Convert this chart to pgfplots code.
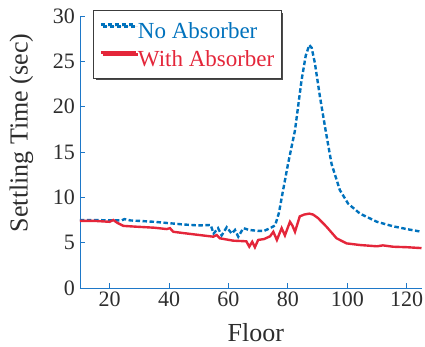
\documentclass[border=0pt]{standalone}
\usepackage{pgfplots}
\pgfplotsset{compat=1.18}
\usepackage{fontspec}
\setmainfont{Liberation Serif}
\usetikzlibrary{shadows}
\definecolor{myblue}{rgb}{0,0.447,0.741}
\definecolor{myred}{RGB}{228,38,58}
\definecolor{axblue}{RGB}{30,120,200}
\definecolor{txt}{RGB}{45,45,45}
\begin{document}
\begin{tikzpicture}
\begin{axis}[
  scale only axis,
  width=341.5pt, height=272pt,
  xmin=10, xmax=125, ymin=0, ymax=30,
  axis lines*=left,
  axis line style={color=axblue, line width=0.9pt},
  tick style={color=axblue, line width=0.9pt},
  tick align=inside,
  major tick length=5pt,
  xtick={20,40,60,80,100,120},
  ytick={0,5,10,15,20,25,30},
  /pgf/number format/assume math mode=true,
  tick label style={font=\fontsize{22}{26}\selectfont, text=txt},
  yticklabel style={xshift=-1.5pt},
  xlabel={Floor},
  ylabel={Settling Time (sec)},
  label style={font=\fontsize{26}{30}\selectfont, text=txt},
  xlabel style={at={(axis description cs:0.515,0)}, anchor=base, yshift=-53.5pt},
  ylabel style={at={(axis description cs:-0.1713,0.57)}, anchor=center},
  legend style={at={(axis description cs:0.038,1.022)}, anchor=north west,
    draw={rgb,255:red,60;green,60;blue,60}, line width=1.2pt, fill=white,
    drop shadow={shadow xshift=2pt, shadow yshift=-2pt, fill=black!70, opacity=1},
    font=\fontsize{23}{27}\selectfont,
    inner xsep=6pt, inner ysep=8.5pt, row sep=5.8pt,
    nodes={inner xsep=1pt, inner ysep=0pt, text height=19pt, text depth=3.5pt},
    cells={anchor=west}},
  legend image code/.code={\draw[#1] (0pt,6pt) -- (35pt,6pt);},
]
\addplot[myblue, line width=2.4pt, dash pattern=on 4.5pt off 2.5pt] coordinates {
(10,7.5)(15,7.5)(20,7.45)(24,7.45)(25,7.6)(27,7.45)(30,7.4)(35,7.3)(40,7.15)(45,7.0)(50,6.9)(54,6.95)(55,6.0)(56.5,6.6)(57.7,5.8)(59.4,6.7)(61.1,6.0)(62.2,6.4)(63.3,5.66)(65,6.6)(67,6.4)(70,6.3)(72,6.3)(74,6.6)(75.7,6.9)(77,8.3)(78,10.1)(80,13.6)(82.4,17.4)(84.6,22.9)(86,25.6)(87.2,26.8)(88,26.5)(89.1,24.8)(90.8,21.1)(92.7,17.4)(94.7,13.7)(97.5,10.8)(100.3,9.3)(104.3,8.2)(110,7.3)(115.5,6.8)(120,6.5)(125,6.2)
};
\addlegendentry[text=myblue]{No Absorber}
\addplot[myred, line width=2.4pt] coordinates {
(10,7.4)(15,7.4)(20,7.3)(21.2,7.5)(22.5,7.2)(24.6,6.85)(29,6.76)(35,6.65)(39.2,6.5)(40.3,6.6)(41.4,6.2)(45,6.05)(50,5.85)(54.9,5.66)(56,5.84)(57.1,5.48)(61.6,5.22)(66,5.15)(67,4.56)(68,5.1)(68.9,4.5)(70,5.3)(72,5.4)(74,5.7)(75.1,6.2)(76.3,5.3)(77.9,6.6)(79,5.8)(80.7,7.3)(81.5,6.9)(82.4,6.2)(84,7.9)(85.5,8.1)(87.2,8.2)(88.5,8.1)(90.2,7.7)(93,6.76)(96.4,5.48)(99.8,4.92)(104.3,4.74)(110,4.6)(112,4.7)(115.5,4.55)(120,4.5)(125,4.4)
};
\addlegendentry[text=myred]{With Absorber}
\end{axis}
\pgfresetboundingbox
\path[use as bounding box] (-80pt,-59pt) rectangle (345pt,288pt);
\end{tikzpicture}
\end{document}
